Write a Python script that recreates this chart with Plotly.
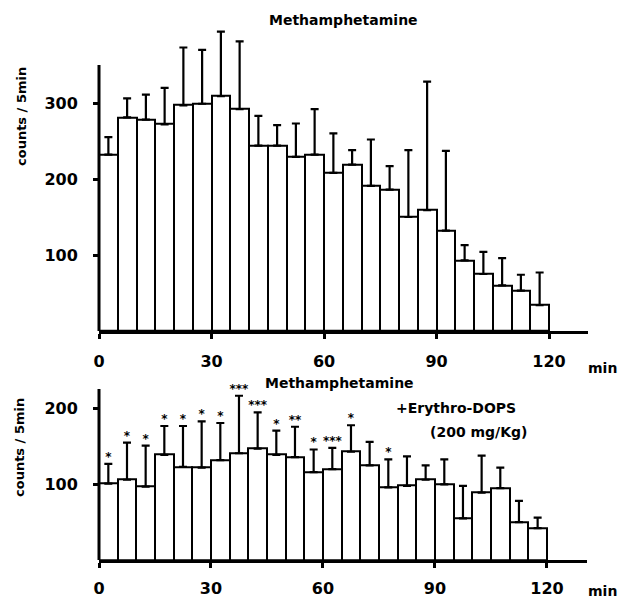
import plotly.graph_objects as go

# ---- data ----
bin_center = [2.5, 7.5, 12.5, 17.5, 22.5, 27.5, 32.5, 37.5, 42.5, 47.5, 52.5, 57.5,
              62.5, 67.5, 72.5, 77.5, 82.5, 87.5, 92.5, 97.5, 102.5, 107.5, 112.5, 117.5]

meth_mean = [232, 281, 278, 272, 297, 299, 309, 292, 244, 244, 229, 232,
             208, 219, 191, 186, 150, 159, 132, 93, 75, 60, 53, 34]
meth_upper = [255, 306, 311, 320, 373, 370, 394, 381, 283, 271, 273, 292,
              260, 238, 252, 217, 238, 328, 237, 113, 104, 96, 74, 77]

dops_mean = [101, 106, 97, 139, 123, 122, 132, 141, 147, 139, 136, 116,
             120, 143, 125, 96, 98, 106, 100, 55, 89, 95, 50, 42]
dops_upper = [127, 155, 151, 177, 177, 183, 181, 217, 195, 171, 176, 146,
              148, 178, 156, 133, 137, 125, 133, 98, 138, 122, 78, 56]
dops_stars = ["*", "*", "*", "*", "*", "*", "*", "***", "***", "*", "**", "*",
              "***", "*", "", "*", "", "", "", "", "", "", "", ""]

x_ticks = [0, 30, 60, 90, 120]
top_y_ticks = [100, 200, 300]
bot_y_ticks = [100, 200]
top_axis_max = 350
bot_axis_max = 226

W, H = 619, 601
FONT = "DejaVu Sans"

# pixel geometry
TOP_X0, TOP_X1, TOP_Y0 = 99, 588, 331
TOP_PXPU = 0.76          # px per count
TOP_PXPM = 3.75          # px per minute
BOT_X0, BOT_X1, BOT_Y0 = 99, 587, 560
BOT_PXPU = 0.757
BOT_PXPM = 3.733
TOP_RANGE_MAX = 420
BOT_RANGE_MAX = 240


def px(p):
    return p / W


def py(p):
    return 1 - p / H


fig = go.Figure()

err_top = [u - m for u, m in zip(meth_upper, meth_mean)]
err_bot = [u - m for u, m in zip(dops_upper, dops_mean)]

fig.add_trace(go.Bar(
    x=bin_center, y=meth_mean, width=5,
    marker=dict(color="white", line=dict(color="black", width=2)),
    error_y=dict(type="data", symmetric=False, array=err_top,
                 arrayminus=[0] * len(err_top), color="black",
                 thickness=2.2, width=4),
    xaxis="x", yaxis="y", showlegend=False, cliponaxis=False,
))

fig.add_trace(go.Bar(
    x=bin_center, y=dops_mean, width=5,
    marker=dict(color="white", line=dict(color="black", width=2)),
    error_y=dict(type="data", symmetric=False, array=err_bot,
                 arrayminus=[0] * len(err_bot), color="black",
                 thickness=2.2, width=4),
    xaxis="x2", yaxis="y2", showlegend=False, cliponaxis=False,
))

fig.add_trace(go.Scatter(
    x=bin_center, y=dops_upper, text=dops_stars, mode="text",
    textposition="top center", cliponaxis=False,
    textfont=dict(family=FONT, size=12, color="black", weight="bold"),
    xaxis="x2", yaxis="y2", showlegend=False, hoverinfo="skip",
))

tickfont = dict(family=FONT, size=16, color="black", weight="bold")

common_x = dict(showline=True, linewidth=3, linecolor="black", ticks="outside",
                ticklen=5, tickwidth=3, tickcolor="black", showgrid=False,
                zeroline=False, tickvals=x_ticks, tickfont=tickfont,
                automargin=False, fixedrange=True)
common_y = dict(showline=False, ticks="outside",
                ticklen=5, tickwidth=3, tickcolor="black", showgrid=False,
                zeroline=False, tickfont=tickfont, automargin=False,
                fixedrange=True)

fig.update_layout(
    width=W, height=H,
    margin=dict(l=0, r=0, t=0, b=0, autoexpand=False),
    paper_bgcolor="white", plot_bgcolor="rgba(0,0,0,0)",
    bargap=0,
    xaxis=dict(domain=[px(TOP_X0), px(TOP_X1)],
               range=[0, (TOP_X1 - TOP_X0) / TOP_PXPM],
               anchor="y", ticklabelstandoff=9, **common_x),
    yaxis=dict(domain=[py(TOP_Y0), py(TOP_Y0 - TOP_RANGE_MAX * TOP_PXPU)],
               range=[0, TOP_RANGE_MAX], anchor="x",
               tickvals=top_y_ticks, ticklabelstandoff=12, **common_y),
    xaxis2=dict(domain=[px(BOT_X0), px(BOT_X1)],
                range=[0, (BOT_X1 - BOT_X0) / BOT_PXPM],
                anchor="y2", ticklabelstandoff=7, **common_x),
    yaxis2=dict(domain=[py(BOT_Y0), py(BOT_Y0 - BOT_RANGE_MAX * BOT_PXPU)],
                range=[0, BOT_RANGE_MAX], anchor="x2",
                tickvals=bot_y_ticks, ticklabelstandoff=12, **common_y),
)

# y axis spines (stop at the axis maximum like the reference)
fig.add_shape(type="line", xref="x domain", yref="y", x0=0, x1=0,
              y0=0, y1=top_axis_max, line=dict(color="black", width=3))
fig.add_shape(type="line", xref="x2 domain", yref="y2", x0=0, x1=0,
              y0=0, y1=bot_axis_max, line=dict(color="black", width=3))


def label(text, x, y, size, angle=0, weight="bold"):
    fig.add_annotation(text=text, x=px(x), y=py(y), xref="paper", yref="paper",
                       showarrow=False, textangle=angle,
                       xanchor="center", yanchor="middle",
                       font=dict(family=FONT, size=size, color="black", weight=weight))


label("Methamphetamine", 343, 20, 14)
label("Methamphetamine", 340, 383, 14)
label("+Erythro-DOPS", 456, 408, 14)
label("(200 mg/Kg)", 479, 432, 14)
label("min", 602, 368, 14)
label("min", 602, 591, 14)
label("counts / 5min", 21, 117, 13, angle=-90)
label("counts / 5min", 19, 448, 13, angle=-90)

fig.write_html(
    "out.html",
    config={"displayModeBar": False},
    post_script="document.body.style.margin='0';document.body.style.padding='0';",
)
